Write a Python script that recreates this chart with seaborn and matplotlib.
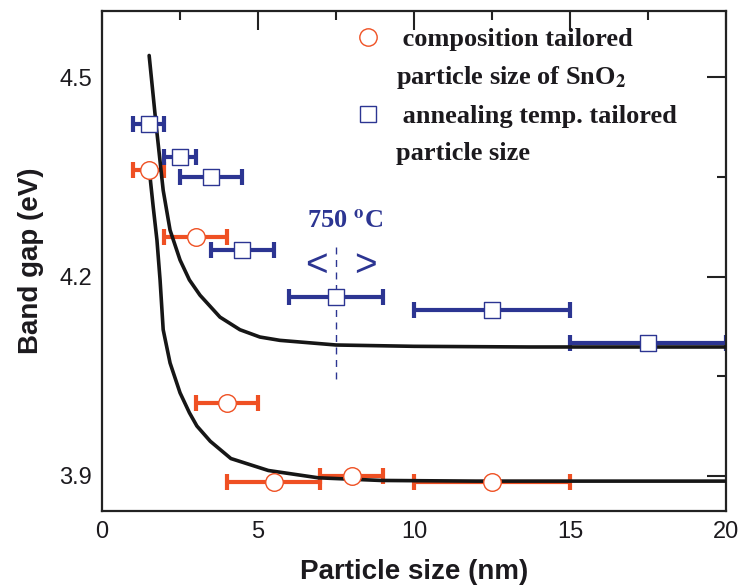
import numpy as np
import pandas as pd
import seaborn as sns
import matplotlib.pyplot as plt
from matplotlib.lines import Line2D

# values
comp_size = [1.5, 3.0, 4.0, 5.5, 8.0, 12.5]
comp_gap = [4.36, 4.26, 4.01, 3.89, 3.90, 3.89]
comp_lo = [1.0, 2.0, 3.0, 4.0, 7.0, 10.0]
comp_hi = [2.0, 4.0, 5.0, 7.0, 9.0, 15.0]

anneal_size = [1.5, 2.5, 3.5, 4.5, 7.5, 12.5, 17.5]
anneal_gap = [4.43, 4.38, 4.35, 4.24, 4.17, 4.15, 4.10]
anneal_lo = [1.0, 2.0, 2.5, 3.5, 6.0, 10.0, 15.0]
anneal_hi = [2.0, 3.0, 4.5, 5.5, 9.0, 15.0, 20.0]

# fitted curves, points
upper_x = [1.51, 1.73, 1.96, 2.18, 2.5, 2.8, 3.14, 3.78, 4.42, 5.06, 5.7, 7.5, 10.0, 13.7, 20.0]
upper_y = [4.533, 4.43, 4.33, 4.27, 4.225, 4.195, 4.172, 4.139, 4.12, 4.109, 4.104, 4.097, 4.095, 4.094, 4.094]
lower_x = [1.51, 1.64, 1.76, 1.86, 1.96, 2.18, 2.5, 2.8, 3.04, 3.47, 4.13, 5.33, 6.93, 8.93, 12.0, 20.0]
lower_y = [4.363, 4.305, 4.255, 4.195, 4.12, 4.07, 4.025, 3.995, 3.975, 3.952, 3.926, 3.908, 3.897, 3.893, 3.892, 3.892]

temp_x = 7.5
temp_line = [4.244, 4.041]

red = "#EF5023"
blue = "#2C3592"
ink = "#1C1A1E"

sns.set_style("white")
plt.rcParams["font.family"] = ["Liberation Sans", "DejaVu Sans"]
plt.rcParams["mathtext.fontset"] = "stix"

fig = plt.figure(figsize=(7.41, 5.85), dpi=100)
ax = fig.add_axes([0.1377, 0.1265, 0.8421, 0.8547])

comp = pd.DataFrame({"size": comp_size, "gap": comp_gap})
anneal = pd.DataFrame({"size": anneal_size, "gap": anneal_gap})

# horizontal error bars
for df, lo, hi, c in [(comp, comp_lo, comp_hi, red), (anneal, anneal_lo, anneal_hi, blue)]:
    xerr = [df["size"] - np.array(lo), np.array(hi) - df["size"]]
    ax.errorbar(df["size"], df["gap"], xerr=xerr, fmt="none", ecolor=c,
                elinewidth=3, capsize=6, capthick=3, zorder=2)

# curves
sns.lineplot(x=upper_x, y=upper_y, sort=False, color="#161616", linewidth=2.6, ax=ax, zorder=3)
sns.lineplot(x=lower_x, y=lower_y, sort=False, color="#161616", linewidth=2.6, ax=ax, zorder=3)

# open markers
sns.scatterplot(data=comp, x="size", y="gap", marker="o", s=160, facecolor="white",
                edgecolor=red, linewidth=1.0, ax=ax, zorder=4)
sns.scatterplot(data=anneal, x="size", y="gap", marker="s", s=135, facecolor="white",
                edgecolor=blue, linewidth=1.0, ax=ax, zorder=4)

# 750 C marker line and text
ax.plot([temp_x, temp_x], temp_line, color=blue, linewidth=1.0, dashes=(5, 4), zorder=1)
ax.text(7.8, 4.282, "750 $^\\mathbf{o}$C", color=blue, fontsize=19, fontweight="bold",
        family="Liberation Serif", ha="center", va="center")
ax.text(6.86, 4.216, "<", color=blue, fontsize=28, ha="center", va="center")
ax.text(8.43, 4.216, ">", color=blue, fontsize=28, ha="center", va="center")

ax.set_xlim(0, 20)
ax.set_ylim(3.847, 4.6)
ax.set_xticks([0, 5, 10, 15, 20])
ax.set_xticks([2.5, 7.5, 12.5, 17.5], minor=True)
ax.set_yticks([3.9, 4.2, 4.5])
ax.set_yticklabels(["3.9", "4.2", "4.5"])
ax.set_yticks([4.05, 4.35], minor=True)
ax.tick_params(which="both", direction="in", top=True, right=True, width=1.5, colors="#222222",
               labelcolor=ink, labelsize=17)
ax.tick_params(which="major", length=13.5, pad=7)
ax.tick_params(which="minor", length=6.5)
for s in ax.spines.values():
    s.set_linewidth(1.6)
    s.set_color("#222222")

ax.set_xlabel("Particle size (nm)", fontsize=20, fontweight="bold", color=ink, labelpad=12)
ax.set_ylabel("Band gap (eV)", fontsize=20, fontweight="bold", color=ink, labelpad=11)

# legend
handles = [
    Line2D([], [], marker="o", linestyle="none", markersize=12.5, markerfacecolor="white",
           markeredgecolor=red, markeredgewidth=1.0),
    Line2D([], [], linestyle="none"),
    Line2D([], [], marker="s", linestyle="none", markersize=11.5, markerfacecolor="white",
           markeredgecolor=blue, markeredgewidth=1.0),
    Line2D([], [], linestyle="none"),
]
labels = [" composition tailored", "particle size of SnO$_\\mathbf{2}$",
          " annealing temp. tailored", "particle size"]
leg = ax.legend(handles, labels, loc="upper left", bbox_to_anchor=(0.367, 1.014), frameon=False,
                prop={"family": "Liberation Serif", "weight": "bold", "size": 19},
                handlelength=1.0, handletextpad=0.55, labelspacing=0.5)
for t in leg.get_texts():
    t.set_color(ink)

fig.savefig("out.png", dpi=100)
